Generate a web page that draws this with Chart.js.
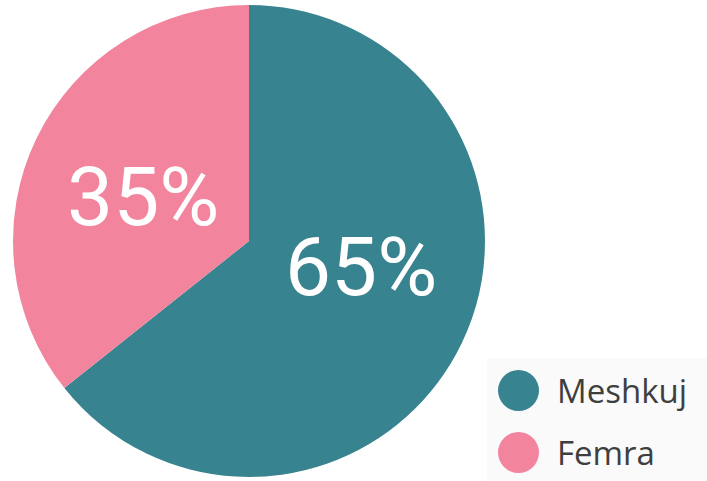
<!DOCTYPE html>
<html>
<head>
<meta charset="utf-8">
<script src="https://cdn.jsdelivr.net/npm/chart.js@4"></script>
<style>
  html, body { margin: 0; padding: 0; background: #fff; }
  #wrap { position: relative; width: 707px; height: 481px; }
  #legend {
    position: absolute; left: 487px; top: 358px; width: 220px; height: 123px;
    background: #fafafa; font-family: "Open Sans", sans-serif; color: #3f3f3f;
  }
  .item { position: absolute; left: 11px; height: 41px; display: flex; align-items: center; }
  .dot { width: 41px; height: 41px; border-radius: 50%; margin-right: 18px; flex: none; }
  .item span { font-size: 33px; line-height: 41px; }
</style>
</head>
<body>
<div id="wrap">
  <canvas id="pie" width="707" height="481"></canvas>
  <div id="legend"></div>
</div>
<script>
const labels = ['Meshkuj', 'Femra'];
const values = [64.3, 35.7];
const pctText = ['65%', '35%'];
const colors = ['#37838f', '#f2849e'];
// angle tweak (deg) for where each % label sits, relative to slice middle
const labelShift = [-13, -2.7];

const pctLabels = {
  id: 'pctLabels',
  afterDatasetsDraw(chart) {
    const ctx = chart.ctx;
    const meta = chart.getDatasetMeta(0);
    ctx.save();
    ctx.fillStyle = '#fff';
    ctx.font = '400 82px Roboto, sans-serif';
    ctx.textAlign = 'center';
    ctx.textBaseline = 'alphabetic';
    meta.data.forEach((arc, i) => {
      const p = arc.getProps(['x', 'y', 'startAngle', 'endAngle', 'outerRadius'], true);
      const mid = (p.startAngle + p.endAngle) / 2 + labelShift[i] * Math.PI / 180;
      const r = p.outerRadius * 0.487;
      ctx.fillText(pctText[i], p.x + Math.cos(mid) * r, p.y + Math.sin(mid) * r + 29);
    });
    ctx.restore();
  }
};

new Chart(document.getElementById('pie'), {
  type: 'pie',
  data: {
    labels: labels,
    datasets: [{ data: values, backgroundColor: colors, borderWidth: 0 }]
  },
  options: {
    responsive: false,
    animation: false,
    layout: { padding: { left: 13, top: 5, right: 222, bottom: 4 } },
    plugins: { legend: { display: false }, tooltip: { enabled: false } }
  },
  plugins: [pctLabels]
});

const legend = document.getElementById('legend');
labels.forEach((name, i) => {
  const row = document.createElement('div');
  row.className = 'item';
  row.style.top = (12 + i * 62) + 'px';
  row.innerHTML = `<div class="dot" style="background:${colors[i]}"></div><span>${name}</span>`;
  legend.appendChild(row);
});
</script>
</body>
</html>
